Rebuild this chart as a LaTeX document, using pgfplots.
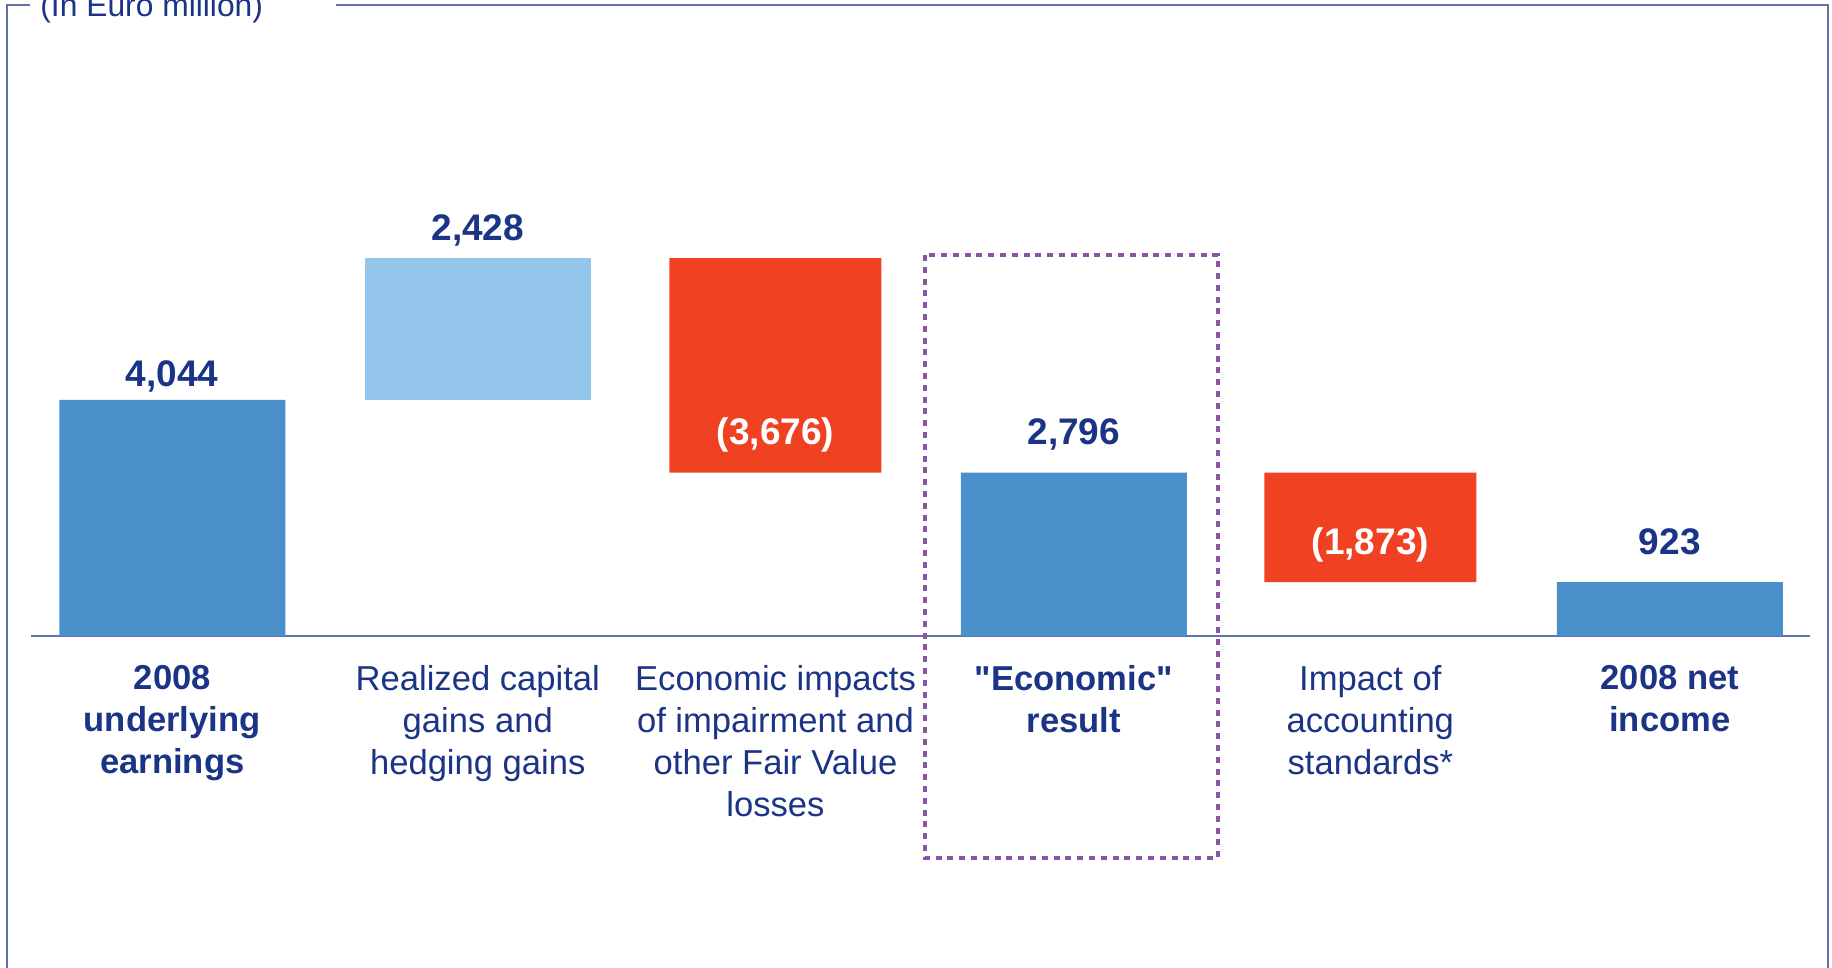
\documentclass[border=0pt]{standalone}
\usepackage{pgfplots}
\pgfplotsset{compat=1.18}
\usepackage{fontspec}
\setmainfont{Liberation Sans}
\definecolor{barblue}{HTML}{4A90CB}
\definecolor{barlight}{HTML}{93C6EA}
\definecolor{barred}{HTML}{F04123}
\definecolor{navy}{HTML}{1B3486}
\definecolor{framec}{HTML}{6272A8}
\definecolor{purp}{HTML}{8B55A5}
\tikzset{vlab/.style={anchor=base, inner sep=0pt, font=\bfseries\fontsize{18.5}{22}\selectfont, text=navy}}
\begin{document}
\begin{tikzpicture}
\path[use as bounding box] (0pt,0pt) rectangle (916pt,484pt);
\begin{axis}[
  at={(15.75pt,166pt)}, anchor=south west,
  scale only axis, width=889.25pt, height=204.4pt,
  xmin=-0.47, xmax=5.468, ymin=0, ymax=7000,
  ybar stacked, bar width=113pt,
  axis x line=bottom, axis y line=none,
  x axis line style={-, draw=framec, line width=1pt},
  xtick={0,1.02,2.014,3.01,4,5}, major tick length=0pt,
  xticklabels={{\textbf{2008}\\\textbf{underlying}\\\textbf{earnings}},
               {Realized capital\\gains and\\hedging gains},
               {Economic impacts\\of impairment and\\other Fair Value\\losses},
               {\textbf{\textquotedbl Economic\textquotedbl}\\\textbf{result}},
               {Impact of\\accounting\\standards*},
               {\textbf{2008 net}\\\textbf{income}}},
  xticklabel style={font=\fontsize{17.3}{21}\selectfont, text=navy, align=center, anchor=north, inner sep=0pt, yshift=-14.5pt},
  ytick=\empty,
  clip=false,
]
\addplot[draw=none, fill=none] coordinates {(0,0) (1.02,4044) (2.014,2796) (3.01,0) (4,923) (5,0)};
\addplot[fill=barblue, draw=none] coordinates {(0,4044) (1.02,0) (2.014,0) (3.01,2796) (4,0) (5,923)};
\addplot[fill=barlight, draw=none] coordinates {(0,0) (1.02,2428) (2.014,0) (3.01,0) (4,0) (5,0)};
\addplot[fill=barred, draw=none, bar width=106pt] coordinates {(0,0) (1.02,0) (2.014,3676) (3.01,0) (4,1873) (5,0)};
\coordinate (l1) at (axis cs:0,4269);
\coordinate (l2) at (axis cs:1.02,6769);
\coordinate (l3) at (axis cs:2.014,3271);
\coordinate (l4) at (axis cs:3.01,3271);
\coordinate (l5) at (axis cs:4,1387);
\coordinate (l6) at (axis cs:5,1387);
\end{axis}
\node[vlab] at (l1) {4,044};
\node[vlab] at (l2) {2,428};
\node[vlab, text=white] at (l3) {(3,676)};
\node[vlab] at (l4) {2,796};
\node[vlab, text=white] at (l5) {(1,873)};
\node[vlab] at (l6) {923};
\begin{scope}[x=0.5pt,y=0.5pt]
\draw[framec, line width=1pt] (30,963) -- (7,963) -- (7,-10);
\draw[framec, line width=1pt] (336,963) -- (1828,963) -- (1828,-10);
\node[anchor=base west, inner sep=0pt, font=\fontsize{15.9}{19}\selectfont, text=navy] at (40,951) {(In Euro million)};
\draw[purp, line width=2.4pt, dash pattern=on 3pt off 2.9pt] (925,713) rectangle (1218,110);
\end{scope}
\end{tikzpicture}
\end{document}
